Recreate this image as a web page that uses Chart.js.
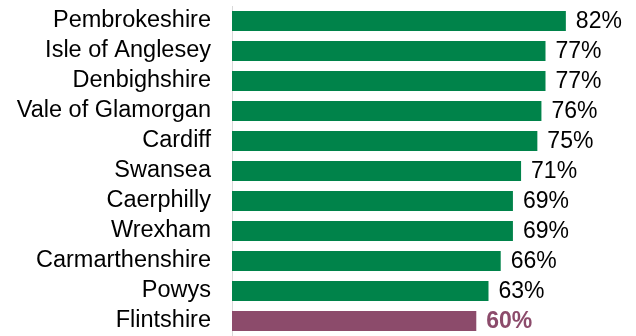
<!DOCTYPE html>
<html lang="en">
<head>
<meta charset="UTF-8">
<title>Local authority chart</title>
<script src="https://cdn.jsdelivr.net/npm/chart.js"></script>
<style>
  html, body { margin: 0; padding: 0; background: #fff; }
  #wrap { width: 636px; height: 336px; }
</style>
</head>
<body>
<div id="wrap"><canvas id="chart"></canvas></div>
<script>
const areas = ['Pembrokeshire', 'Isle of Anglesey', 'Denbighshire', 'Vale of Glamorgan', 'Cardiff',
    'Swansea', 'Caerphilly', 'Wrexham', 'Carmarthenshire', 'Powys', 'Flintshire'];
const percentages = [82, 77, 77, 76, 75, 71, 69, 69, 66, 63, 60];
const highlightArea = 'Flintshire';

const GREEN = '#00834A';
const PURPLE = '#8C4B6B';
const FONT = '"Liberation Sans", Arial, sans-serif';

const barColors = areas.map(a => a === highlightArea ? PURPLE : GREEN);

// draws the "82%" style labels at the end of each bar
const valueLabels = {
    id: 'valueLabels',
    afterDatasetsDraw(chart) {
        const ctx = chart.ctx;
        const meta = chart.getDatasetMeta(0);
        ctx.save();
        ctx.textBaseline = 'middle';
        ctx.textAlign = 'left';
        meta.data.forEach((bar, i) => {
            const hl = areas[i] === highlightArea;
            ctx.font = (hl ? 'bold ' : '') + '23px ' + FONT;
            ctx.fillStyle = hl ? PURPLE : '#000';
            ctx.fillText(percentages[i] + '%', bar.x + 10, bar.y + 1);
        });
        ctx.restore();
    }
};

new Chart(document.getElementById('chart'), {
    type: 'bar',
    data: {
        labels: areas,
        datasets: [{
            data: percentages,
            backgroundColor: barColors,
            borderWidth: 0,
            categoryPercentage: 1,
            barPercentage: 0.67
        }]
    },
    options: {
        indexAxis: 'y',
        responsive: true,
        maintainAspectRatio: false,
        animation: false,
        layout: { padding: { top: 6, right: 5, bottom: 0, left: 0 } },
        plugins: { legend: { display: false }, tooltip: { enabled: false } },
        scales: {
            x: {
                display: false,
                min: 0,
                max: 98
            },
            y: {
                grid: { display: false, drawTicks: false },
                border: { display: true, color: '#d9d9d9', width: 1 },
                ticks: {
                    color: '#000',
                    padding: 21,
                    autoSkip: false,
                    font: { family: FONT, size: 23.5 }
                },
                afterFit(scale) {
                    scale.width = 232;
                    scale.paddingTop = 0;
                    scale.paddingBottom = 0;
                }
            }
        }
    },
    plugins: [valueLabels]
});
</script>
</body>
</html>
